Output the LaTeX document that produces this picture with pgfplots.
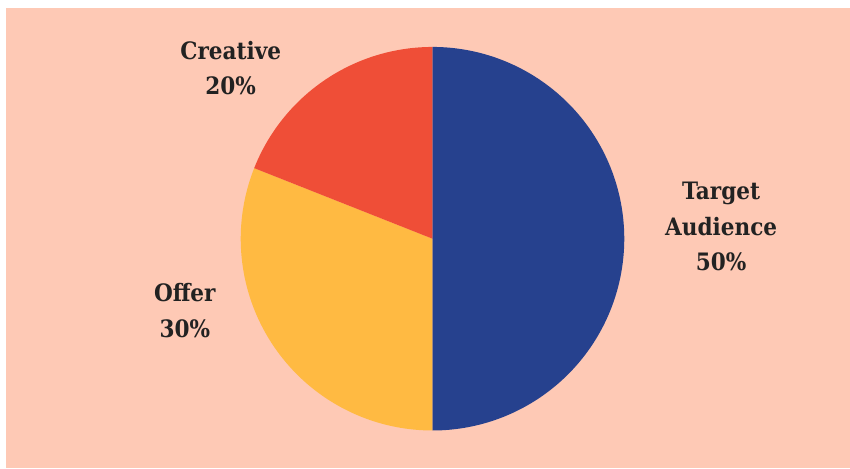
\documentclass[border=0pt]{standalone}
\usepackage{pgfplots}
\pgfplotsset{compat=1.18}
\usepackage{pgfplotstable}
\usepackage{fontspec}
\setmainfont{DejaVu Serif Condensed}
\definecolor{bgpeach}{HTML}{FEC9B5}
\definecolor{tblue}{HTML}{26418E}
\definecolor{tred}{HTML}{EF4E37}
\definecolor{tyellow}{HTML}{FFBA42}
\definecolor{txt}{HTML}{222222}
% share values (percent, as drawn), clockwise from 12 o'clock
\pgfplotstableread{
label value
Target 50
Offer 31
Creative 19
}\piedata
\pgfplotstablegetelem{0}{value}\of\piedata \let\va\pgfplotsretval
\pgfplotstablegetelem{1}{value}\of\piedata \let\vb\pgfplotsretval
\pgfplotstablegetelem{2}{value}\of\piedata \let\vc\pgfplotsretval
\pgfmathsetmacro{\aA}{90}
\pgfmathsetmacro{\aB}{90-3.6*\va}
\pgfmathsetmacro{\aC}{\aB-3.6*\vb}
\pgfmathsetmacro{\aD}{\aC-3.6*\vc}
\def\cx{433}\def\cy{229}\def\rr{192}
\begin{document}
\begin{tikzpicture}
\begin{axis}[
  width=850pt, height=468pt, scale only axis,
  xmin=0, xmax=850, ymin=0, ymax=468,
  hide axis, clip=false,
]
% background panel
\addplot[fill=white, draw=none] coordinates {(0,0) (850,0) (850,468) (0,468)} -- cycle;
\addplot[fill=bgpeach, draw=none] coordinates {(6,-1) (851,-1) (851,460) (6,460)} -- cycle;
% wedges
\addplot[fill=tblue, draw=none, domain=\aA:\aB, samples=181]
  ({\cx+\rr*cos(x)},{\cy+\rr*sin(x)}) -- (axis cs:\cx,\cy) -- cycle;
\addplot[fill=tyellow, draw=none, domain=\aB:\aC, samples=121]
  ({\cx+\rr*cos(x)},{\cy+\rr*sin(x)}) -- (axis cs:\cx,\cy) -- cycle;
\addplot[fill=tred, draw=none, domain=\aC:\aD, samples=81]
  ({\cx+\rr*cos(x)},{\cy+\rr*sin(x)}) -- (axis cs:\cx,\cy) -- cycle;
% labels
\node[font=\fontsize{24}{35.5}\selectfont\bfseries, text=txt, align=center] at (axis cs:231,400) {Creative\\20\%};
\node[font=\fontsize{24}{35.5}\selectfont\bfseries, text=txt, align=center] at (axis cs:722,241) {Target\\Audience\\50\%};
\node[font=\fontsize{24}{35.5}\selectfont\bfseries, text=txt, align=center] at (axis cs:185,157) {Offer\\30\%};
\end{axis}
\end{tikzpicture}
\end{document}
